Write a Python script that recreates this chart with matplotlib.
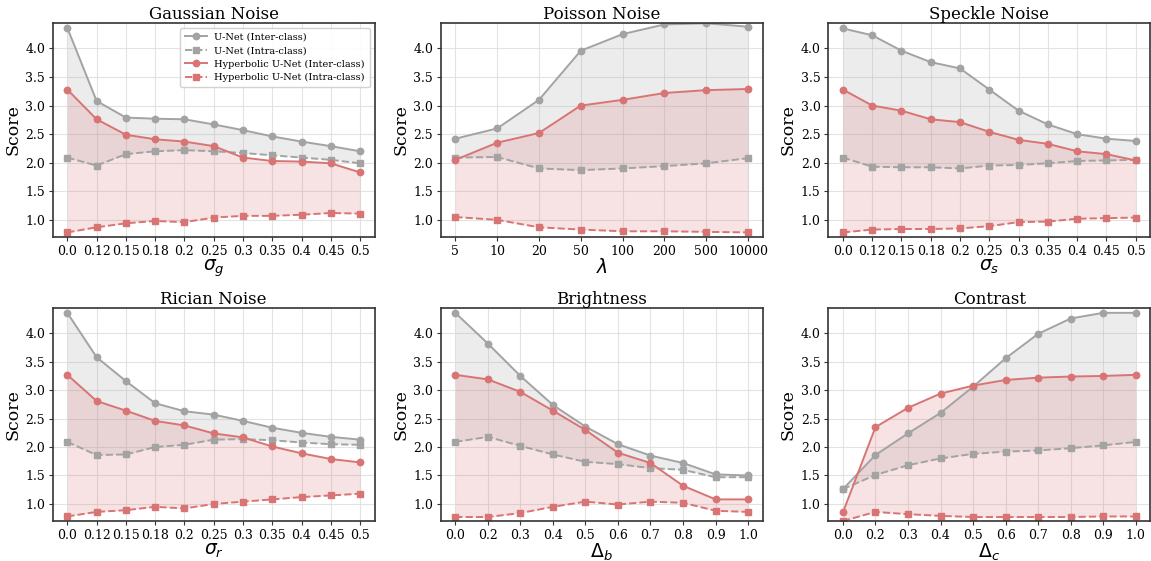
import matplotlib
matplotlib.use("Agg")
import matplotlib.pyplot as plt
import numpy as np

plt.rcParams['font.family'] = ['DejaVu Serif']
plt.rcParams['mathtext.fontset'] = 'dejavusans'

# ---------------- data ----------------
titles = ["Gaussian Noise", "Poisson Noise", "Speckle Noise",
          "Rician Noise", "Brightness", "Contrast"]
xlabels = [r"$\sigma_g$", r"$\lambda$", r"$\sigma_s$",
           r"$\sigma_r$", r"$\Delta_b$", r"$\Delta_c$"]

sigma_ticks = ["0.0", "0.12", "0.15", "0.18", "0.2", "0.25", "0.3", "0.35", "0.4", "0.45", "0.5"]
lambda_ticks = ["5", "10", "20", "50", "100", "200", "500", "10000"]
delta_ticks = ["0.0", "0.2", "0.3", "0.4", "0.5", "0.6", "0.7", "0.8", "0.9", "1.0"]

# Gaussian
gauss_unet_inter = [4.36, 3.08, 2.79, 2.77, 2.76, 2.67, 2.57, 2.46, 2.37, 2.29, 2.20]
gauss_unet_intra = [2.09, 1.95, 2.15, 2.20, 2.22, 2.20, 2.17, 2.13, 2.09, 2.05, 1.99]
gauss_hyp_inter = [3.28, 2.76, 2.49, 2.41, 2.37, 2.29, 2.09, 2.03, 2.02, 1.99, 1.83]
gauss_hyp_intra = [0.78, 0.87, 0.94, 0.98, 0.96, 1.04, 1.07, 1.07, 1.09, 1.12, 1.11]

# Poisson
pois_unet_inter = [2.42, 2.60, 3.10, 3.96, 4.25, 4.42, 4.44, 4.38]
pois_unet_intra = [2.09, 2.10, 1.90, 1.87, 1.90, 1.94, 1.99, 2.08]
pois_hyp_inter = [2.05, 2.35, 2.52, 3.00, 3.10, 3.22, 3.27, 3.29]
pois_hyp_intra = [1.05, 1.00, 0.87, 0.83, 0.80, 0.80, 0.79, 0.78]

# Speckle
speck_unet_inter = [4.35, 4.23, 3.96, 3.76, 3.65, 3.28, 2.91, 2.67, 2.50, 2.42, 2.38]
speck_unet_intra = [2.09, 1.93, 1.92, 1.92, 1.90, 1.95, 1.96, 1.99, 2.03, 2.04, 2.05]
speck_hyp_inter = [3.28, 3.00, 2.91, 2.76, 2.71, 2.54, 2.40, 2.33, 2.20, 2.15, 2.04]
speck_hyp_intra = [0.78, 0.83, 0.84, 0.84, 0.85, 0.89, 0.96, 0.97, 1.02, 1.03, 1.04]

# Rician
ric_unet_inter = [4.36, 3.58, 3.16, 2.77, 2.63, 2.57, 2.46, 2.34, 2.25, 2.18, 2.13]
ric_unet_intra = [2.09, 1.86, 1.87, 2.00, 2.04, 2.13, 2.14, 2.12, 2.08, 2.05, 2.04]
ric_hyp_inter = [3.27, 2.81, 2.64, 2.46, 2.38, 2.24, 2.17, 2.01, 1.89, 1.79, 1.73]
ric_hyp_intra = [0.78, 0.86, 0.89, 0.95, 0.92, 1.00, 1.04, 1.08, 1.12, 1.15, 1.18]

# Brightness
bri_unet_inter = [4.36, 3.82, 3.25, 2.74, 2.36, 2.05, 1.85, 1.72, 1.52, 1.50]
bri_unet_intra = [2.09, 2.18, 2.02, 1.87, 1.74, 1.70, 1.63, 1.60, 1.47, 1.47]
bri_hyp_inter = [3.27, 3.19, 2.97, 2.64, 2.30, 1.90, 1.72, 1.32, 1.08, 1.08]
bri_hyp_intra = [0.77, 0.77, 0.84, 0.95, 1.04, 0.99, 1.04, 1.02, 0.88, 0.86]

# Contrast
con_unet_inter = [1.26, 1.86, 2.24, 2.60, 3.06, 3.56, 3.99, 4.26, 4.36, 4.36]
con_unet_intra = [1.26, 1.51, 1.68, 1.80, 1.88, 1.92, 1.94, 1.98, 2.03, 2.09]
con_hyp_inter = [0.85, 2.35, 2.69, 2.94, 3.08, 3.18, 3.22, 3.24, 3.25, 3.27]
con_hyp_intra = [0.70, 0.86, 0.82, 0.79, 0.77, 0.77, 0.77, 0.77, 0.78, 0.78]

tick_sets = [sigma_ticks, lambda_ticks, sigma_ticks, sigma_ticks, delta_ticks, delta_ticks]
series = [
    (gauss_unet_inter, gauss_unet_intra, gauss_hyp_inter, gauss_hyp_intra),
    (pois_unet_inter, pois_unet_intra, pois_hyp_inter, pois_hyp_intra),
    (speck_unet_inter, speck_unet_intra, speck_hyp_inter, speck_hyp_intra),
    (ric_unet_inter, ric_unet_intra, ric_hyp_inter, ric_hyp_intra),
    (bri_unet_inter, bri_unet_intra, bri_hyp_inter, bri_hyp_intra),
    (con_unet_inter, con_unet_intra, con_hyp_inter, con_hyp_intra),
]

GRAY = '#a3a3a3'
RED = '#d97474'

fig = plt.figure(figsize=(11.51, 5.61), dpi=100)
W, H = 1151, 561
lefts = [52.7, 440.7, 828.3]
aw = 322
rows = [(23, 237), (308, 521)]

for i in range(6):
    r, c = divmod(i, 3)
    top, bot = rows[r]
    ax = fig.add_axes([lefts[c] / W, 1 - bot / H, aw / W, (bot - top) / H])
    ui, ua, hi, ha = series[i]
    x = np.arange(len(tick_sets[i]))
    ax.fill_between(x, ua, ui, color=GRAY, alpha=0.2, linewidth=0)
    ax.fill_between(x, ha, hi, color=RED, alpha=0.2, linewidth=0)
    ax.plot(x, ui, '-o', color=GRAY, lw=1.4, ms=4.6, label='U-Net (Inter-class)')
    ax.plot(x, ua, '--s', color=GRAY, lw=1.4, ms=4.6, label='U-Net (Intra-class)')
    ax.plot(x, hi, '-o', color=RED, lw=1.4, ms=4.6, label='Hyperbolic U-Net (Inter-class)')
    ax.plot(x, ha, '--s', color=RED, lw=1.4, ms=4.6, label='Hyperbolic U-Net (Intra-class)')
    ax.set_xticks(x)
    ax.set_xticklabels(tick_sets[i], fontsize=9)
    ax.set_ylim(0.70, 4.445)
    ax.set_yticks([1.0, 1.5, 2.0, 2.5, 3.0, 3.5, 4.0])
    ax.tick_params(axis='y', labelsize=9)
    ax.tick_params(length=3, color='#333333', pad=2.5)
    ax.grid(True, color='#dddddd', lw=0.8, alpha=0.8)
    ax.set_axisbelow(True)
    for s in ax.spines.values():
        s.set_color('#333333')
        s.set_linewidth(1.2)
    ax.set_title(titles[i], fontsize=12, pad=3)
    ax.set_ylabel('Score', fontsize=12.5, labelpad=3)
    ax.set_xlabel(xlabels[i], fontsize=13.5, labelpad=0)
    if i == 0:
        ax.legend(loc='upper right', fontsize=7, framealpha=0.9, borderpad=0.5,
                  handlelength=2.2, labelspacing=0.45)

fig.savefig('out.png', dpi=100)
